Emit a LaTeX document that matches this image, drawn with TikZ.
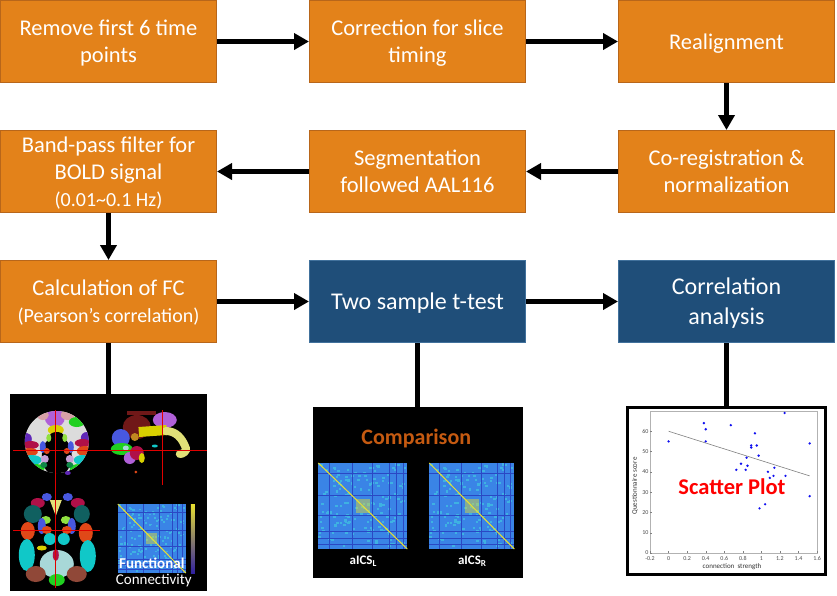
\documentclass[tikz,border=0pt]{standalone}
\usepackage{fontspec}
\setmainfont{Carlito}
\usetikzlibrary{arrows.meta,positioning}

\definecolor{boxorange}{HTML}{E3821A}
\definecolor{boxorangeline}{HTML}{B8661A}
\definecolor{boxblue}{HTML}{1F4E79}
\definecolor{boxblueline}{HTML}{41719C}
\definecolor{cmpOrange}{HTML}{C55A11}
\definecolor{matBlue}{HTML}{3A84E6}
\definecolor{matCyan}{HTML}{3EB2E2}
\definecolor{matDark}{HTML}{2A48C4}
\definecolor{matYel}{HTML}{E8E030}
\definecolor{matTeal}{HTML}{20B0A0}
\definecolor{matPur}{HTML}{3020A0}
\definecolor{ptBlue}{HTML}{1010F0}
% brain atlas colours
\definecolor{bMag}{HTML}{B060D8}
\definecolor{bPink}{HTML}{D8A0A8}
\definecolor{bGreen}{HTML}{20D020}
\definecolor{bGray}{HTML}{DCDCDC}
\definecolor{bYel}{HTML}{D8D000}
\definecolor{bPur}{HTML}{6028B8}
\definecolor{bCrim}{HTML}{B01048}
\definecolor{bOrg}{HTML}{E04818}
\definecolor{bCyan}{HTML}{10C8C8}
\definecolor{bLGreen}{HTML}{90E040}
\definecolor{bBlue}{HTML}{4858E0}
\definecolor{bLav}{HTML}{C8A0D8}
\definecolor{bDGreen}{HTML}{108848}
\definecolor{bMaroon}{HTML}{701818}
\definecolor{bOchre}{HTML}{C08820}
\definecolor{bLYel}{HTML}{E0E078}
\definecolor{bTeal}{HTML}{106060}
\definecolor{bLCyan}{HTML}{A8D8D8}
\definecolor{bBrown}{HTML}{904838}
\definecolor{bRed}{HTML}{E00000}

\tikzset{fcmat/.pic={
  \fill[matBlue] (0,0) rectangle (1,1);
  \pgfmathsetseed{11}
  \foreach \i in {1,...,150}{
    \pgfmathsetmacro\u{0.97*rnd}\pgfmathsetmacro\v{0.97*rnd}
    \fill[matCyan] (\u,\v) rectangle ++(0.03,0.025);}
  \foreach \p in {0.12,0.38,0.61,0.8,0.88,0.95}
    \draw[matDark,line width=0.7pt] (\p,0) -- (\p,1) (0,\p) -- (1,\p);
  \fill[matYel,opacity=.45] (0.42,0.42) rectangle (0.58,0.58);
  \draw[matYel,line width=1pt] (0,0) -- (1,1);
}}

\begin{document}
\begin{tikzpicture}[x=1pt,y=-1pt]
\tikzstyle{prep}=[rectangle,draw=boxorangeline,fill=boxorange,line width=1pt,minimum width=216pt,minimum height=82pt,text=white,align=center,text depth=-8pt,font=\fontsize{22.5}{27}\selectfont]
\tikzstyle{stat}=[prep,draw=boxblueline,fill=boxblue,font=\fontsize{24}{30}\selectfont]
\tikzstyle{arr}=[line width=4.5pt,-{Triangle[length=15pt,width=16pt]}]
\tikzstyle{link}=[line width=4.5pt]
\tikzstyle{panel}=[rectangle,fill=black,inner sep=0pt]
\tikzstyle{ticklbl}=[text=gray!60!black,font=\fontsize{6}{7}\selectfont,inner sep=1.5pt]
\tikzset{node distance=47pt and 92pt}
\useasboundingbox (0,0) rectangle (837,595);

% preprocessing boxes
\node[prep] (remove) at (108.5,41.5) {Remove first 6 time\\points};
\node[prep,right=of remove] (slice) {Correction for slice\\timing};
\node[prep,right=of slice] (realign) {Realignment};
\node[prep,below=of realign] (coreg) {Co-registration \&\\normalization};
\node[prep,left=of coreg] (seg) {Segmentation\\followed AAL116};
\node[prep,left=of seg] (band) {Band-pass filter for\\BOLD signal\\{\fontsize{20}{23}\selectfont (0.01\textasciitilde0.1 Hz)}};
\node[prep,below=of band] (calc) {Calculation of FC\\{\fontsize{20}{24}\selectfont (Pearson’s correlation)}};
\node[stat,right=of calc] (ttest) {Two sample t-test};
\node[stat,right=of ttest] (corr) {Correlation\\analysis};

% picture panels
\node[panel,minimum width=197pt,minimum height=197pt,below=51pt of calc] (brain) {};
\node[panel,minimum width=210pt,minimum height=171pt,below=64pt of ttest] (cmp) {};
\node[panel,fill=white,draw=black,line width=3pt,minimum width=198pt,minimum height=167pt,below=63pt of corr] (scat) {};

\draw[arr] (remove) -- (slice);
\draw[arr] (slice) -- (realign);
\draw[arr] (realign) -- (coreg);
\draw[arr] (coreg) -- (seg);
\draw[arr] (seg) -- (band);
\draw[arr] (band) -- (calc);
\draw[arr] (calc) -- (ttest);
\draw[arr] (ttest) -- (corr);
\draw[link] (calc) -- (brain);
\draw[link] (ttest) -- (cmp);
\draw[link] (corr) -- (scat);

% brain slices
\begin{scope}[shift={(brain.north west)}]
  \begin{scope}
    \clip (47,48) ellipse[x radius=32,y radius=31];
    \fill[bGray] (0,0) rectangle (100,100);
    \foreach \x/\y/\a/\b/\c in {45/24/10/9/bMag,33/21/6/5/bPink,58/21/7/5/bPink,67/28/8/5/bGreen,
      17/45/5/6/bPur,77/44/6/6/bPur,21/51/8/4/bCrim,73/49/8/4/bCrim,20/58/8/4/bOrg,75/57/8/5/bOrg,
      22/66/10/5/bCyan,73/66/9/5/bCyan,25/74/10/4/bGreen,69/75/9/5/bGreen,46/36/8/5/bYel}
      \fill[\c] (\x,\y) ellipse[x radius=\a,y radius=\b];
    \fill[black] (47,62) ellipse[x radius=15,y radius=20];
    \fill[black] (47,42) ellipse[x radius=7,y radius=4];
  \end{scope}
  \foreach \x/\y/\a/\b/\c in {39/44/2.5/4/bLGreen,55/44/2.5/4/bLGreen,33/53/3/6/bBlue,61/53/3/6/bBlue,
    37/57/3/3/bOrg,57/57/3/3/bOrg,35/65/4/4/bLav,60/65/4/4/bLav,34/71/3.5/3/bDGreen,60/71/3.5/3/bDGreen,58/79/3/2/bPur}
    \fill[\c] (\x,\y) ellipse[x radius=\a,y radius=\b];
  % sagittal
  \fill[bMaroon] (117,17) rectangle (146,21);
  \fill[bMaroon] (127,33) ellipse[x radius=14,y radius=12];
  \fill[bMag] (155,26) ellipse[x radius=12,y radius=8];
  \draw[bYel,line width=10pt] (129,38) -- (157,36);
  \draw[bLYel,line width=8pt,line cap=round] (156,37) to[out=0,in=110] (176,54) to[out=-70,in=0] (170,60);
  \foreach \x/\y/\a/\b/\c in {125/43/4/4/bOchre,111/44/9/9/bBlue,112/55/11/6/bGreen,116/54/3/2.5/bLCyan,
    120/64/6/6/bMag,127/59/7/7/bCrim,132/64/3/5/bYel,145/52/3/1.5/bCyan,126/78/1.5/1.5/bOrg}
    \fill[\c] (\x,\y) ellipse[x radius=\a,y radius=\b];
  % lower axial
  \foreach \x/\y/\a/\b/\c in {28/109/7/5/bCrim,68/109/7/5/bCrim,37/103/5/4/bBlue,58/103/5/4/bBlue,
    23/120/9/9/bTeal,72/120/8/9/bTeal,36/126/5/4/bLGreen,56/126/5/4/bLGreen,32/132/4/8/bBlue,62/132/4/8/bBlue,
    18/137/7/9/bOrg,76/139/7/10/bOrg,37/136/5/4/bOrg,57/136/5/4/bOrg,17/161/8/16/bCyan,78/162/8/16/bCyan,
    40/145/6/6/bCyan,54/145/6/6/bCyan,32/154/5/2.5/bYel,47/170/17/14/bLCyan,46/161/3/6/bCrim,
    26/180/10/8/bBrown,67/180/10/8/bBrown,47/186/8/6/bGreen}
    \fill[\c] (\x,\y) ellipse[x radius=\a,y radius=\b];
  \fill[bLYel] (40,106) -- (52,106) -- (46,122) -- cycle;
  % cross-hairs
  \draw[bRed,line width=0.8pt] (46,16) -- (46,194) (3,56) -- (197,56) (153,16) -- (153,91) (3,136) -- (90,136);
  % FC matrix and colour bar
  \coordinate (brainmat) at (108,110);
  \pic[x=68pt,y=-69pt] at (brainmat) {fcmat};
  \shade[top color=matYel,middle color=matTeal,bottom color=matPur] (181,110) rectangle (185,179);
  \node[text=white,font=\bfseries\fontsize{15}{17}\selectfont] (fctext) at (142,169) {Functional};
  \node[text=white,font=\fontsize{15}{17}\selectfont] (conntext) at (144,187) {Connectivity};
\end{scope}

% comparison panel
\begin{scope}[shift={(cmp.north west)}]
  \node[text=cmpOrange,font=\bfseries\fontsize{22}{26}\selectfont] (cmptitle) at (104,32) {Comparison};
  \coordinate (leftmat) at (6,56);
  \coordinate (rightmat) at (117,56);
  \pic[x=89pt,y=-86pt] at (leftmat) {fcmat};
  \pic[x=85pt,y=-86pt] at (rightmat) {fcmat};
  \node[text=white,font=\bfseries\fontsize{13}{15}\selectfont] (left lbl) at (51,154) {aICS\textsubscript{L}};
  \node[text=white,font=\bfseries\fontsize{13}{15}\selectfont] (right lbl) at (160,154) {aICS\textsubscript{R}};
\end{scope}

% scatter plot panel
\begin{scope}[shift={(scat.north west)}]
  \draw[gray!60] (24,5) rectangle (191,147);
  \begin{scope}[shift={(42.6,147)},x=92.8pt,y=2.029pt]
    \foreach \t/\l [count=\k] in {-0.2/-0.2,0/0,0.2/0.2,0.4/0.4,0.6/0.6,0.8/0.8,1/1,1.2/1.2,1.4/1.4,1.6/1.6}{
      \draw[gray] (\t,0) -- ++(0,1.2);
      \node[ticklbl,below=1.5pt] (xt\k) at (\t,0) {\l};}
    \foreach \t [count=\k] in {0,10,...,60}{
      \draw[gray] (-0.2,\t) -- ++(0.02,0);
      \node[ticklbl,left] (yt\k) at (-0.2,\t) {\t};}
    \draw[gray,line width=0.6pt] (0,60) -- (1.52,38);
    \foreach \a/\b in {0/55,0.38/64,0.4/61,0.4/55,0.67/63,0.73/41,0.78/44,0.83/41,0.84/47,0.85/43,
      0.89/53,0.89/52,0.93/59,0.95/53,0.97/48,0.98/22,1.04/24,1.07/40,1.09/37,1.13/38,1.14/42,
      1.25/69,1.26/38,1.52/54,1.52/28}
      \fill[ptBlue] (\a,\b) circle[radius=1.3pt];
  \end{scope}
  \node[font=\fontsize{7}{8}\selectfont,text=gray!40!black] (xlabel) at (106,161) {connection\ \ strength};
  \node[font=\fontsize{7}{8}\selectfont,text=gray!40!black,rotate=90] (ylabel) at (9,80) {Questionnaire score};
  \node[text=red,font=\bfseries\fontsize{22.5}{26}\selectfont] (scattitle) at (106,81) {Scatter Plot};
\end{scope}
\end{tikzpicture}
\end{document}
